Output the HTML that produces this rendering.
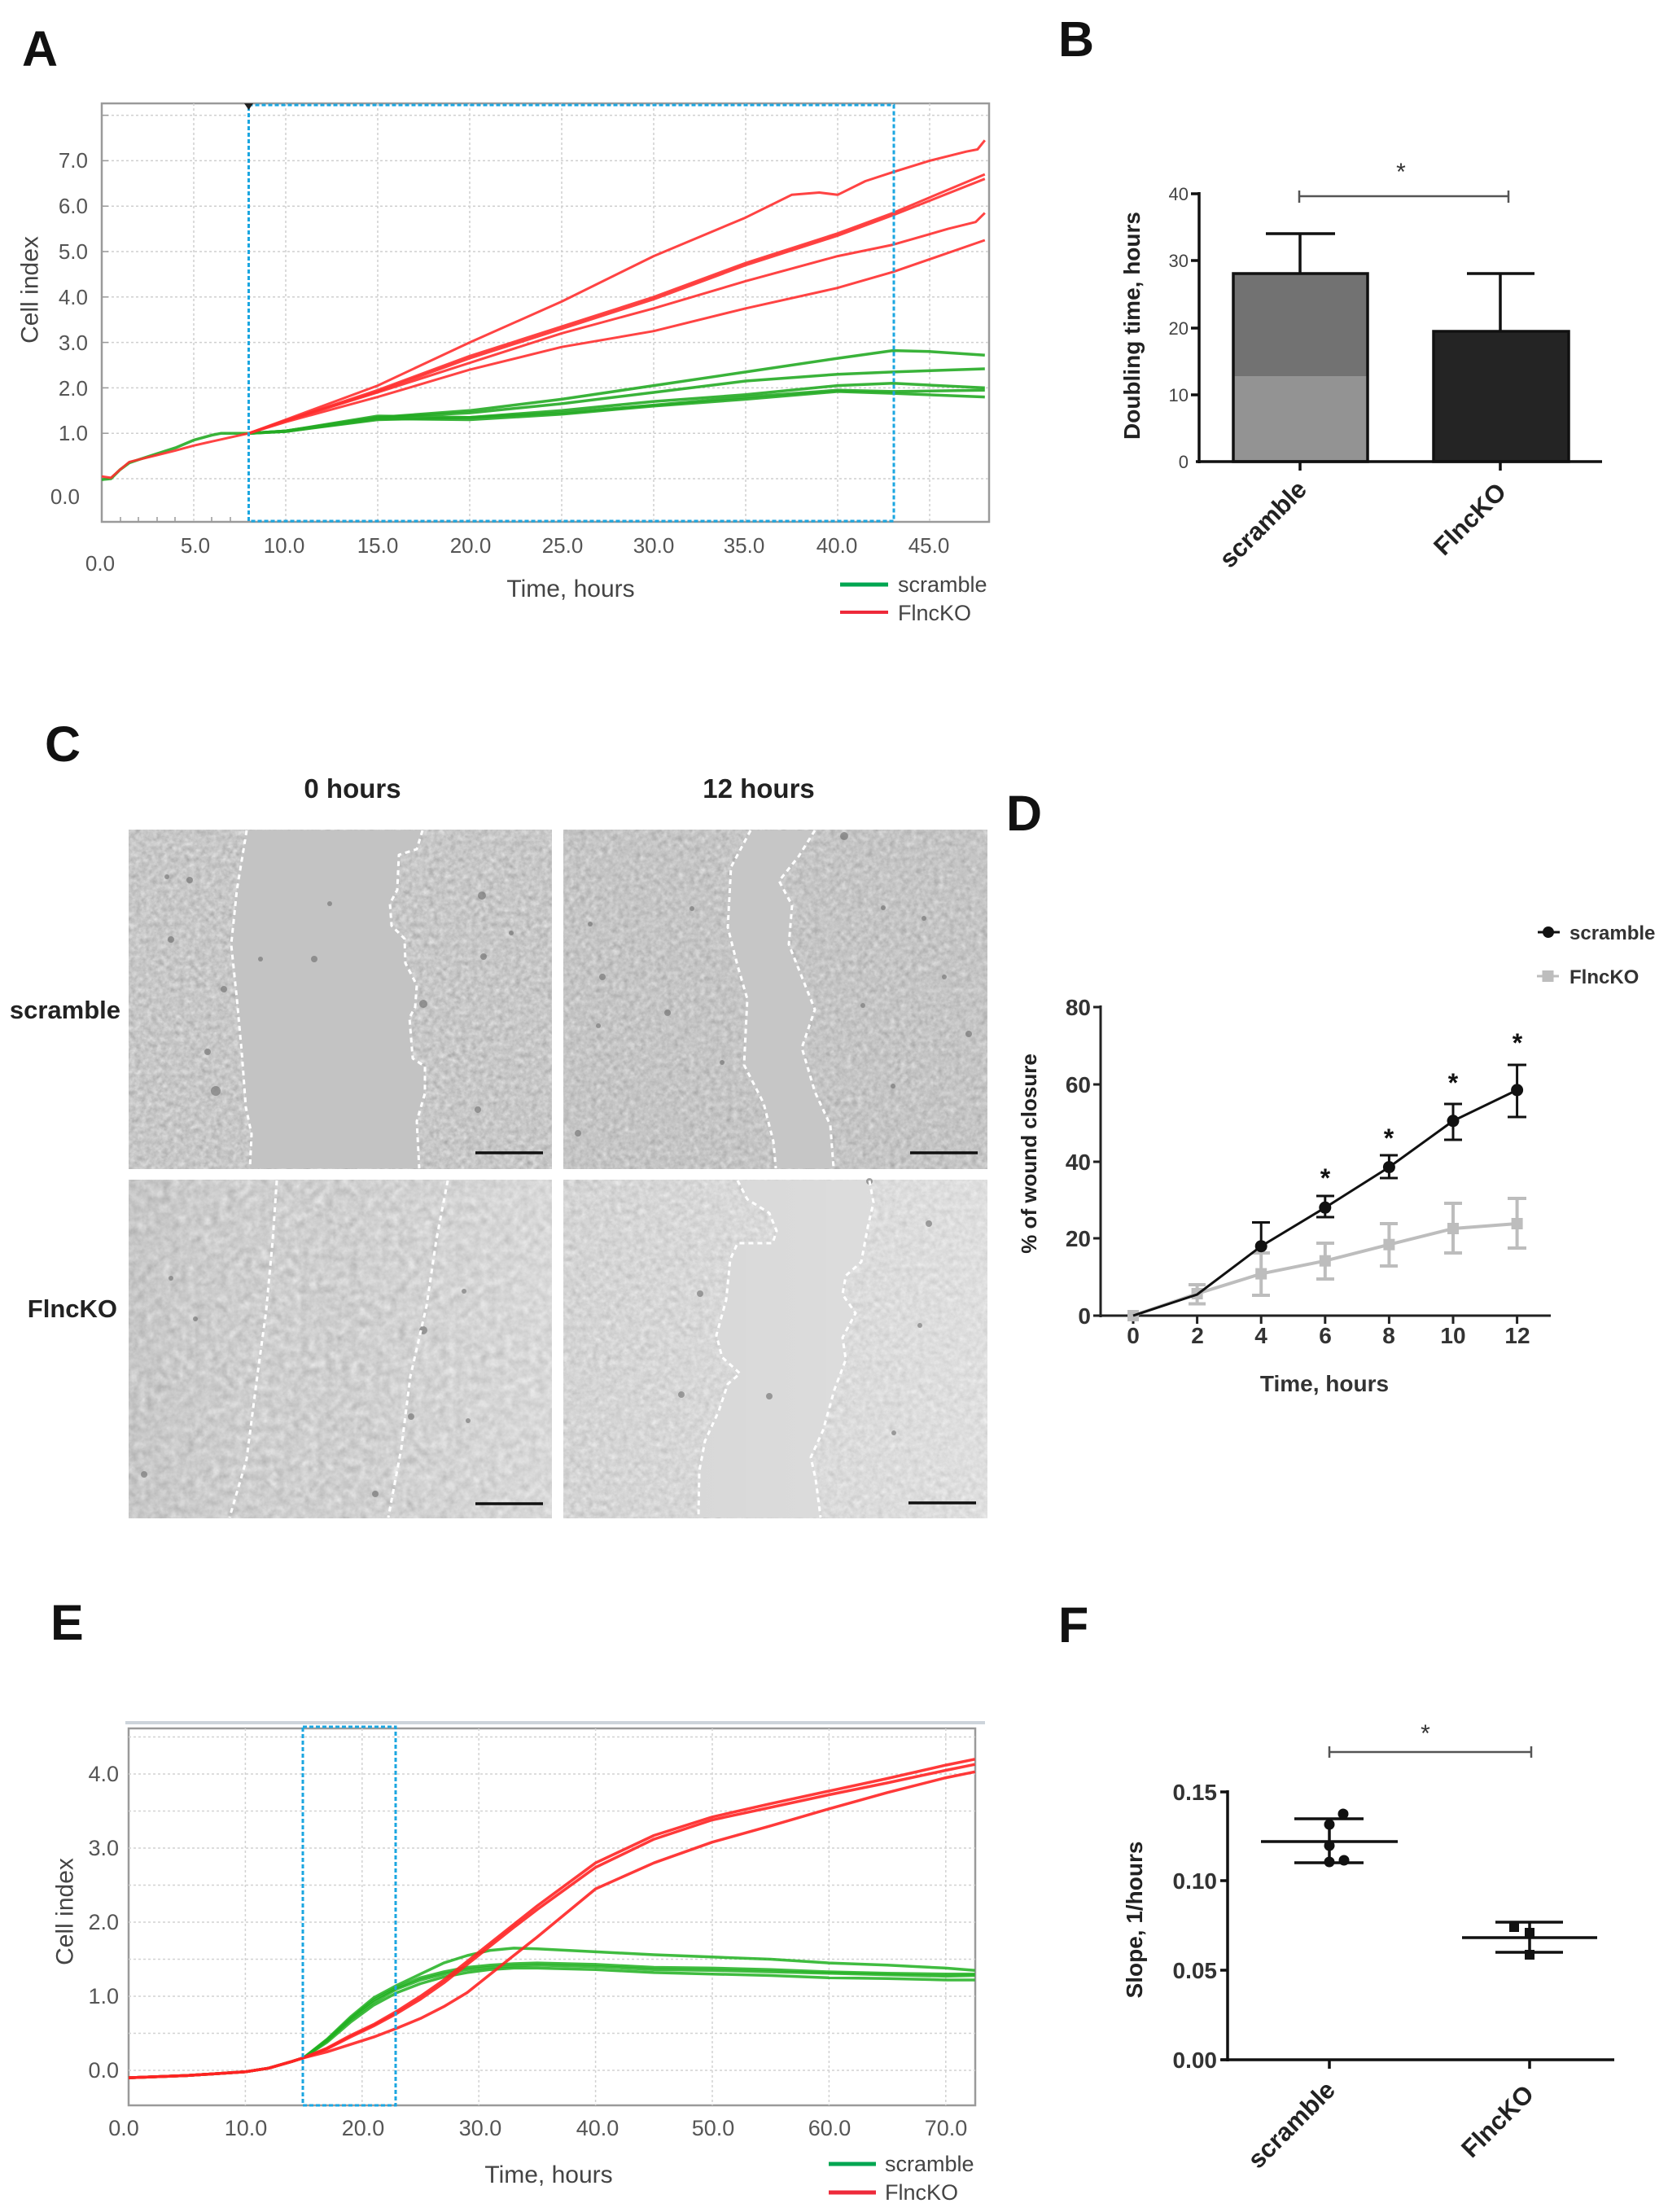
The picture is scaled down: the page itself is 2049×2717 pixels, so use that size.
<!DOCTYPE html>
<html><head><meta charset="utf-8"><style>
html,body{margin:0;padding:0;background:#fff}
svg{display:block}
text{font-family:"Liberation Sans",Arial,sans-serif}
</style></head><body>
<svg width="2049" height="2717" viewBox="0 0 2049 2717" xmlns="http://www.w3.org/2000/svg">
<defs>
<filter id="n1" x="0" y="0" width="1" height="1" color-interpolation-filters="sRGB">
<feTurbulence type="fractalNoise" baseFrequency="0.15" numOctaves="3" seed="2"/>
<feColorMatrix type="matrix" values="0.13 0.13 0.13 0 0.585 0.13 0.13 0.13 0 0.585 0.13 0.13 0.13 0 0.585 0 0 0 0 1"/>
</filter>
<filter id="n2" x="0" y="0" width="1" height="1" color-interpolation-filters="sRGB">
<feTurbulence type="fractalNoise" baseFrequency="0.15" numOctaves="3" seed="7"/>
<feColorMatrix type="matrix" values="0.13 0.13 0.13 0 0.575 0.13 0.13 0.13 0 0.575 0.13 0.13 0.13 0 0.575 0 0 0 0 1"/>
</filter>
<filter id="n3" x="0" y="0" width="1" height="1" color-interpolation-filters="sRGB">
<feTurbulence type="fractalNoise" baseFrequency="0.1" numOctaves="3" seed="11"/>
<feColorMatrix type="matrix" values="0.12 0.12 0.12 0 0.63 0.12 0.12 0.12 0 0.63 0.12 0.12 0.12 0 0.63 0 0 0 0 1"/>
</filter>
<filter id="n4" x="0" y="0" width="1" height="1" color-interpolation-filters="sRGB">
<feTurbulence type="fractalNoise" baseFrequency="0.14" numOctaves="3" seed="4"/>
<feColorMatrix type="matrix" values="0.1 0.1 0.1 0 0.68 0.1 0.1 0.1 0 0.68 0.1 0.1 0.1 0 0.68 0 0 0 0 1"/>
</filter>
<linearGradient id="g3" x1="0" y1="0" x2="1" y2="0">
<stop offset="0" stop-color="#000" stop-opacity="0.04"/>
<stop offset="0.5" stop-color="#fff" stop-opacity="0"/>
<stop offset="1" stop-color="#fff" stop-opacity="0.2"/>
</linearGradient>
<linearGradient id="g4" x1="0" y1="0" x2="1" y2="0">
<stop offset="0" stop-color="#fff" stop-opacity="0"/>
<stop offset="1" stop-color="#fff" stop-opacity="0.25"/>
</linearGradient>
</defs>

<!-- Panel letters -->
<g font-weight="bold" font-size="61" fill="#111">
<text x="27" y="81">A</text>
<text x="1300" y="69">B</text>
<text x="55" y="935">C</text>
<text x="1236" y="1020">D</text>
<text x="62" y="2014">E</text>
<text x="1300" y="2017">F</text>
</g>

<!-- ================= PANEL A ================= -->
<g>
<rect x="125" y="127" width="1090" height="514" fill="#fff" stroke="#9a9a9a" stroke-width="2.5"/>
<g stroke="#cfcfcf" stroke-width="1.5" stroke-dasharray="3 3">
<line x1="125" y1="588" x2="1215" y2="588"/>
<line x1="125" y1="532.2" x2="1215" y2="532.2"/>
<line x1="125" y1="476.4" x2="1215" y2="476.4"/>
<line x1="125" y1="420.6" x2="1215" y2="420.6"/>
<line x1="125" y1="364.8" x2="1215" y2="364.8"/>
<line x1="125" y1="309" x2="1215" y2="309"/>
<line x1="125" y1="253.2" x2="1215" y2="253.2"/>
<line x1="125" y1="197.4" x2="1215" y2="197.4"/>
<line x1="125" y1="141.6" x2="1215" y2="141.6"/>
<line x1="238" y1="127" x2="238" y2="641"/>
<line x1="351" y1="127" x2="351" y2="641"/>
<line x1="464" y1="127" x2="464" y2="641"/>
<line x1="577" y1="127" x2="577" y2="641"/>
<line x1="690" y1="127" x2="690" y2="641"/>
<line x1="803" y1="127" x2="803" y2="641"/>
<line x1="916" y1="127" x2="916" y2="641"/>
<line x1="1029" y1="127" x2="1029" y2="641"/>
<line x1="1142" y1="127" x2="1142" y2="641"/>
</g>
<g stroke="#999" stroke-width="1.5">
<line x1="125" y1="588" x2="133" y2="588"/><line x1="125" y1="532.2" x2="133" y2="532.2"/><line x1="125" y1="476.4" x2="133" y2="476.4"/><line x1="125" y1="420.6" x2="133" y2="420.6"/><line x1="125" y1="364.8" x2="133" y2="364.8"/><line x1="125" y1="309" x2="133" y2="309"/><line x1="125" y1="253.2" x2="133" y2="253.2"/><line x1="125" y1="197.4" x2="133" y2="197.4"/><line x1="125" y1="141.6" x2="133" y2="141.6"/>
<line x1="148" y1="641" x2="148" y2="635"/><line x1="170" y1="641" x2="170" y2="635"/><line x1="193" y1="641" x2="193" y2="635"/><line x1="215" y1="641" x2="215" y2="635"/><line x1="260" y1="641" x2="260" y2="635"/><line x1="283" y1="641" x2="283" y2="635"/>
</g>
<!-- green curves -->
<g fill="none" stroke="#25ab25" stroke-width="3.5" stroke-linejoin="round" stroke-opacity="0.9">
<path d="M125,589.1 L136.3,588 L147.6,576.8 L158.9,568.5 L170.2,564.6 L192.8,557.3 L215.4,550.1 L238,540.6 L260.6,534.4 L271.9,532.2 L283.2,532.2 L305.8,532.2"/>
<path d="M305.8,532.2 L351,529.4 L464,512.7 L577,504.3 L690,490.4 L803,473.6 L916,456.9 L1029,440.1 L1096.8,430.6 L1142,431.8 L1209.8,436.2"/>
<path d="M305.8,532.2 L351,529.4 L464,512.7 L577,507.1 L690,495.9 L803,482 L916,468 L1029,459.7 L1096.8,456.9 L1209.8,453"/>
<path d="M305.8,532.2 L351,529.4 L464,511 L577,512.7 L690,504.3 L803,493.1 L916,484.8 L1029,473.6 L1096.8,470.8 L1209.8,476.4"/>
<path d="M305.8,532.2 L351,530 L464,515.5 L577,512.7 L690,507.1 L803,497.6 L916,487.6 L1029,479.2 L1096.8,480.9 L1209.8,479.2"/>
<path d="M305.8,532.2 L351,530 L464,514.3 L577,515.5 L690,508.8 L803,498.7 L916,490.4 L1029,480.9 L1096.8,483.1 L1209.8,487.6"/>
</g>
<!-- red curves -->
<g fill="none" stroke="#ff2f2f" stroke-width="3" stroke-linejoin="round" stroke-opacity="0.9">
<path d="M125,585.2 L136.3,586.9 L147.6,576.8 L158.9,567.4 L170.2,564.6 L192.8,559 L215.4,553.4 L238,547.3 L260.6,542.2 L283.2,537.2 L305.8,532.2"/>
<path d="M305.8,532.2 L351,515.5 L464,473.6 L577,420.6 L690,370.4 L803,314.6 L916,267.2 L972.5,239.3 L1006.4,236.5 L1029,239.3 L1063,222.5 L1096.8,211.4 L1142,197.4 L1187,186.2 L1200.8,183.5 L1209.8,172.3"/>
<path d="M305.8,532.2 L351,516.6 L464,479.2 L577,437.3 L690,401.1 L803,364.8 L916,323 L1029,286.7 L1096.8,261.6 L1209.8,214.1"/>
<path d="M305.8,532.2 L351,516.6 L464,480.9 L577,440.1 L690,403.9 L803,367.6 L916,325.7 L1029,289.5 L1096.8,264.4 L1209.8,219.7"/>
<path d="M305.8,532.2 L351,517.1 L464,482 L577,445.7 L690,409.4 L803,378.8 L916,345.3 L1029,314.6 L1096.8,300.6 L1164.6,281.1 L1198.5,272.7 L1209.8,261.6"/>
<path d="M305.8,532.2 L351,518.3 L464,487.6 L577,454.1 L690,426.2 L803,406.7 L916,378.8 L1029,353.6 L1096.8,334.1 L1209.8,295"/>
</g>
<!-- blue selection -->
<rect x="305.5" y="129" width="792.5" height="511" fill="none" stroke="#1ba6e0" stroke-width="3" stroke-dasharray="5 3"/>
<path d="M300,127 L311,127 L305.5,135 Z" fill="#222"/>
<g font-size="26" fill="#555" text-anchor="end">
<text x="108" y="206">7.0</text>
<text x="108" y="262">6.0</text>
<text x="108" y="318">5.0</text>
<text x="108" y="374">4.0</text>
<text x="108" y="430">3.0</text>
<text x="108" y="486">2.0</text>
<text x="108" y="541">1.0</text>
<text x="98" y="619">0.0</text>
</g>
<g font-size="26" fill="#555" text-anchor="middle">
<text x="123" y="701">0.0</text>
<text x="240" y="679">5.0</text>
<text x="349" y="679">10.0</text>
<text x="464" y="679">15.0</text>
<text x="578" y="679">20.0</text>
<text x="691" y="679">25.0</text>
<text x="803" y="679">30.0</text>
<text x="914" y="679">35.0</text>
<text x="1028" y="679">40.0</text>
<text x="1141" y="679">45.0</text>
</g>
<text transform="translate(36,356) rotate(-90)" text-anchor="middle" dy="0.35em" font-size="30" fill="#444">Cell index</text>
<text x="701" y="733" text-anchor="middle" font-size="30" fill="#444">Time, hours</text>
<line x1="1032" y1="718" x2="1091" y2="718" stroke="#00a651" stroke-width="5"/>
<text x="1103" y="727" font-size="27" fill="#444">scramble</text>
<line x1="1032" y1="752" x2="1091" y2="752" stroke="#ee2a3a" stroke-width="4"/>
<text x="1103" y="762" font-size="27" fill="#444">FlncKO</text>
</g>

<!-- ================= PANEL B ================= -->
<g>
<rect x="1515" y="336" width="165" height="126" fill="#727272"/>
<rect x="1515" y="462" width="165" height="105" fill="#939393"/>
<rect x="1515" y="336" width="165" height="231" fill="none" stroke="#111" stroke-width="3.5"/>
<rect x="1761" y="407" width="166" height="160" fill="#242424" stroke="#111" stroke-width="3.5"/>
<g stroke="#111" stroke-width="3.5" fill="none">
<line x1="1597" y1="336" x2="1597" y2="287"/><line x1="1555" y1="287" x2="1640" y2="287"/>
<line x1="1843" y1="407" x2="1843" y2="336"/><line x1="1802" y1="336" x2="1885" y2="336"/>
<line x1="1473" y1="236" x2="1473" y2="569"/>
<line x1="1469" y1="567" x2="1968" y2="567"/>
<line x1="1463" y1="238" x2="1473" y2="238"/><line x1="1463" y1="320" x2="1473" y2="320"/><line x1="1463" y1="403" x2="1473" y2="403"/><line x1="1463" y1="485" x2="1473" y2="485"/>
<line x1="1597" y1="567" x2="1597" y2="578"/><line x1="1843" y1="567" x2="1843" y2="578"/>
</g>
<g stroke="#555" stroke-width="2.5">
<line x1="1596" y1="241" x2="1853" y2="241"/><line x1="1596" y1="234" x2="1596" y2="249"/><line x1="1853" y1="234" x2="1853" y2="249"/>
</g>
<text x="1721" y="221" text-anchor="middle" font-size="30" fill="#333">*</text>
<g font-size="22" fill="#444" text-anchor="end">
<text x="1460" y="246">40</text><text x="1460" y="328">30</text><text x="1460" y="411">20</text><text x="1460" y="493">10</text><text x="1460" y="575">0</text>
</g>
<text transform="translate(1390,400) rotate(-90)" text-anchor="middle" dy="0.35em" font-size="28" font-weight="bold" fill="#222">Doubling time, hours</text>
<text transform="translate(1607,603) rotate(-45)" text-anchor="end" font-size="31" font-weight="bold" fill="#222">scramble</text>
<text transform="translate(1852,606) rotate(-45)" text-anchor="end" font-size="31" font-weight="bold" fill="#222">FlncKO</text>
</g>

<!-- ================= PANEL C ================= -->
<g>
<g font-size="33" font-weight="bold" fill="#222" text-anchor="middle">
<text x="433" y="980">0 hours</text>
<text x="932" y="980">12 hours</text>
</g>
<g font-size="31" font-weight="bold" fill="#222" text-anchor="end">
<text x="148" y="1251">scramble</text>
<text x="144" y="1618">FlncKO</text>
</g>
<!-- image 1 -->
<rect x="158" y="1019" width="520" height="417" filter="url(#n1)"/>
<polygon points="303,1020 291,1093 284,1160 291,1227 297,1293 302,1360 309,1393 307,1435 515,1435 512,1377 522,1343 522,1310 507,1300 503,1250 510,1237 512,1210 498,1183 497,1153 481,1137 479,1110 488,1093 490,1050 512,1043 519,1020" fill="#c3c3c3"/>
<!-- image 2 -->
<rect x="692" y="1019" width="521" height="417" filter="url(#n2)"/>
<polygon points="922,1020 898,1065 894,1139 906,1186 918,1227 914,1308 938,1355 950,1402 953,1435 1024,1435 1020,1382 1001,1341 985,1287 1001,1240 985,1200 969,1160 973,1112 957,1082 981,1052 1001,1020" fill="#c6c6c6"/>
<!-- image 3 -->
<rect x="158" y="1449" width="520" height="416" filter="url(#n3)"/>
<rect x="158" y="1449" width="520" height="416" fill="url(#g3)"/>
<!-- image 4 -->
<rect x="692" y="1449" width="521" height="416" filter="url(#n4)"/>
<polygon points="906,1450 918,1473 945,1490 954,1512 949,1527 906,1527 897,1547 892,1597 880,1640 887,1667 909,1687 894,1700 883,1733 866,1770 859,1807 858,1864 1008,1864 1002,1817 996,1790 1011,1757 1025,1707 1039,1670 1035,1643 1051,1613 1035,1590 1039,1567 1058,1550 1066,1507 1073,1477 1068,1450" fill="#d5d5d5"/>
<rect x="692" y="1449" width="521" height="416" fill="url(#g4)"/>
<!-- debris dots -->
<g fill="#6a6a6a" fill-opacity="0.6">
<circle cx="233" cy="1081" r="4"/><circle cx="205" cy="1077" r="3"/><circle cx="265" cy="1340" r="6"/><circle cx="255" cy="1292" r="4"/><circle cx="210" cy="1154" r="4"/><circle cx="275" cy="1215" r="4"/><circle cx="320" cy="1178" r="3"/><circle cx="386" cy="1178" r="4"/><circle cx="405" cy="1110" r="3"/>
<circle cx="592" cy="1100" r="5"/><circle cx="594" cy="1175" r="4"/><circle cx="520" cy="1233" r="5"/><circle cx="587" cy="1363" r="4"/><circle cx="628" cy="1146" r="3"/>
<circle cx="725" cy="1135" r="3"/><circle cx="740" cy="1200" r="4"/><circle cx="735" cy="1260" r="3"/><circle cx="710" cy="1392" r="4"/><circle cx="820" cy="1244" r="4"/><circle cx="850" cy="1116" r="3"/><circle cx="887" cy="1305" r="3"/>
<circle cx="1037" cy="1027" r="5"/><circle cx="1060" cy="1235" r="3"/><circle cx="1085" cy="1115" r="3"/><circle cx="1135" cy="1128" r="3"/><circle cx="1190" cy="1270" r="4"/><circle cx="1160" cy="1200" r="3"/><circle cx="1097" cy="1334" r="3"/>
<circle cx="210" cy="1570" r="3"/><circle cx="240" cy="1620" r="3"/><circle cx="520" cy="1634" r="5"/><circle cx="505" cy="1740" r="4"/><circle cx="570" cy="1586" r="3"/><circle cx="575" cy="1745" r="3"/><circle cx="177" cy="1811" r="4"/><circle cx="461" cy="1835" r="4"/>
<circle cx="860" cy="1589" r="4"/><circle cx="837" cy="1713" r="4"/><circle cx="945" cy="1715" r="4"/><circle cx="1141" cy="1503" r="4"/><circle cx="1130" cy="1628" r="3"/><circle cx="1098" cy="1760" r="3"/><circle cx="1068" cy="1451" r="4"/>
</g>
<!-- wound lines -->
<g fill="none" stroke="#fff" stroke-width="3" stroke-dasharray="6 5" stroke-linejoin="round">
<polyline points="303,1020 291,1093 284,1160 291,1227 297,1293 302,1360 309,1393 307,1435"/>
<polyline points="519,1020 512,1043 490,1050 488,1093 479,1110 481,1137 497,1153 498,1183 512,1210 510,1237 503,1250 507,1300 522,1310 522,1343 512,1377 515,1435"/>
<polyline points="922,1020 898,1065 894,1139 906,1186 918,1227 914,1308 938,1355 950,1402 953,1435"/>
<polyline points="1001,1020 981,1052 957,1082 973,1112 969,1160 985,1200 1001,1240 985,1287 1001,1341 1020,1382 1024,1435"/>
<polyline points="340,1450 335,1523 327,1610 315,1698 303,1792 282,1864"/>
<polyline points="550,1450 536,1523 524,1604 504,1691 493,1779 477,1864"/>
<polyline points="906,1450 918,1473 945,1490 954,1512 949,1527 906,1527 897,1547 892,1597 880,1640 887,1667 909,1687 894,1700 883,1733 866,1770 859,1807 858,1864"/>
<polyline points="1068,1450 1073,1477 1066,1507 1058,1550 1039,1567 1035,1590 1051,1613 1035,1643 1039,1670 1025,1707 1011,1757 996,1790 1002,1817 1008,1864"/>
</g>
<g stroke="#111" stroke-width="3.5">
<line x1="584" y1="1416" x2="667" y2="1416"/>
<line x1="1118" y1="1416" x2="1201" y2="1416"/>
<line x1="584" y1="1847" x2="667" y2="1847"/>
<line x1="1116" y1="1846" x2="1199" y2="1846"/>
</g>
</g>

<!-- ================= PANEL D ================= -->
<g>
<g stroke="#222" stroke-width="3" fill="none">
<line x1="1352" y1="1235" x2="1352" y2="1618"/>
<line x1="1345" y1="1616" x2="1905" y2="1616"/>
<line x1="1343" y1="1237" x2="1352" y2="1237"/><line x1="1343" y1="1332" x2="1352" y2="1332"/><line x1="1343" y1="1427" x2="1352" y2="1427"/><line x1="1343" y1="1521" x2="1352" y2="1521"/><line x1="1343" y1="1616" x2="1352" y2="1616"/>
<line x1="1392" y1="1616" x2="1392" y2="1626"/><line x1="1470.6" y1="1616" x2="1470.6" y2="1626"/><line x1="1549.2" y1="1616" x2="1549.2" y2="1626"/><line x1="1627.8" y1="1616" x2="1627.8" y2="1626"/><line x1="1706.4" y1="1616" x2="1706.4" y2="1626"/><line x1="1785" y1="1616" x2="1785" y2="1626"/><line x1="1863.6" y1="1616" x2="1863.6" y2="1626"/>
</g>
<!-- FlncKO gray -->
<g stroke="#bdbdbd" stroke-width="4" fill="none">
<polyline points="1392,1616 1470.6,1589 1549.2,1564.6 1627.8,1548.7 1706.4,1528.7 1785,1509 1863.6,1503"/>
<line x1="1470.6" y1="1578" x2="1470.6" y2="1601.5"/><line x1="1460" y1="1578" x2="1481" y2="1578"/><line x1="1460" y1="1601.5" x2="1481" y2="1601.5"/>
<line x1="1549.2" y1="1539" x2="1549.2" y2="1591"/><line x1="1538" y1="1539" x2="1560" y2="1539"/><line x1="1538" y1="1591" x2="1560" y2="1591"/>
<line x1="1627.8" y1="1527" x2="1627.8" y2="1571"/><line x1="1617" y1="1527" x2="1639" y2="1527"/><line x1="1617" y1="1571" x2="1639" y2="1571"/>
<line x1="1706.4" y1="1503" x2="1706.4" y2="1555"/><line x1="1695" y1="1503" x2="1717" y2="1503"/><line x1="1695" y1="1555" x2="1717" y2="1555"/>
<line x1="1785" y1="1478" x2="1785" y2="1539"/><line x1="1774" y1="1478" x2="1796" y2="1478"/><line x1="1774" y1="1539" x2="1796" y2="1539"/>
<line x1="1863.6" y1="1472" x2="1863.6" y2="1533"/><line x1="1852" y1="1472" x2="1875" y2="1472"/><line x1="1852" y1="1533" x2="1875" y2="1533"/>
</g>
<g fill="#bdbdbd">
<rect x="1385" y="1609" width="14" height="14"/><rect x="1463.6" y="1582" width="14" height="14"/><rect x="1542.2" y="1557.6" width="14" height="14"/><rect x="1620.8" y="1541.7" width="14" height="14"/><rect x="1699.4" y="1521.7" width="14" height="14"/><rect x="1778" y="1502" width="14" height="14"/><rect x="1856.6" y="1496" width="14" height="14"/>
</g>
<!-- scramble black -->
<g stroke="#111" stroke-width="3" fill="none">
<polyline points="1392,1616 1470.6,1590 1549.2,1530.7 1627.8,1483.3 1706.4,1433.6 1785,1376.8 1863.6,1338.9"/>
<line x1="1549.2" y1="1501.5" x2="1549.2" y2="1530"/><line x1="1538" y1="1501.5" x2="1560" y2="1501.5"/>
<line x1="1627.8" y1="1469" x2="1627.8" y2="1495"/><line x1="1617" y1="1469" x2="1639" y2="1469"/><line x1="1617" y1="1495" x2="1639" y2="1495"/>
<line x1="1706.4" y1="1419" x2="1706.4" y2="1447"/><line x1="1695" y1="1419" x2="1717" y2="1419"/><line x1="1695" y1="1447" x2="1717" y2="1447"/>
<line x1="1785" y1="1356" x2="1785" y2="1400"/><line x1="1774" y1="1356" x2="1796" y2="1356"/><line x1="1774" y1="1400" x2="1796" y2="1400"/>
<line x1="1863.6" y1="1308" x2="1863.6" y2="1372"/><line x1="1852" y1="1308" x2="1875" y2="1308"/><line x1="1852" y1="1372" x2="1875" y2="1372"/>
</g>
<g fill="#111">
<circle cx="1549.2" cy="1530.7" r="7.5"/><circle cx="1627.8" cy="1483.3" r="7.5"/><circle cx="1706.4" cy="1433.6" r="7.5"/><circle cx="1785" cy="1376.8" r="7.5"/><circle cx="1863.6" cy="1338.9" r="7.5"/>
</g>
<g font-size="32" font-weight="bold" fill="#111" text-anchor="middle">
<text x="1628" y="1458">*</text><text x="1706" y="1409">*</text><text x="1785" y="1341">*</text><text x="1864" y="1292">*</text>
</g>
<g font-size="28" font-weight="bold" fill="#333" text-anchor="end">
<text x="1340" y="1247">80</text><text x="1340" y="1342">60</text><text x="1340" y="1437">40</text><text x="1340" y="1531">20</text><text x="1340" y="1626">0</text>
</g>
<g font-size="28" font-weight="bold" fill="#333" text-anchor="middle">
<text x="1392" y="1650">0</text><text x="1471" y="1650">2</text><text x="1549" y="1650">4</text><text x="1628" y="1650">6</text><text x="1706" y="1650">8</text><text x="1785" y="1650">10</text><text x="1864" y="1650">12</text>
</g>
<text x="1627" y="1709" text-anchor="middle" font-size="28" font-weight="bold" fill="#333">Time, hours</text>
<text transform="translate(1264,1417) rotate(-90)" text-anchor="middle" dy="0.35em" font-size="26" font-weight="bold" fill="#222">% of wound closure</text>
<line x1="1889" y1="1145" x2="1916" y2="1145" stroke="#111" stroke-width="3"/>
<circle cx="1902" cy="1145" r="7" fill="#111"/>
<text x="1928" y="1154" font-size="24" font-weight="bold" fill="#333">scramble</text>
<line x1="1888" y1="1199" x2="1915" y2="1199" stroke="#bdbdbd" stroke-width="3"/>
<rect x="1894.5" y="1192" width="14" height="14" fill="#bdbdbd"/>
<text x="1928" y="1208" font-size="24" font-weight="bold" fill="#333">FlncKO</text>
</g>

<!-- ================= PANEL E ================= -->
<g>
<line x1="154" y1="2116" x2="1210" y2="2116" stroke="#cdd4db" stroke-width="4"/>
<rect x="158" y="2123" width="1040" height="463" fill="#fff" stroke="#9a9a9a" stroke-width="2.5"/>
<g stroke="#d2d2d2" stroke-width="1.5" stroke-dasharray="3 3">
<line x1="158" y1="2543" x2="1198" y2="2543"/><line x1="158" y1="2497.5" x2="1198" y2="2497.5"/><line x1="158" y1="2452" x2="1198" y2="2452"/><line x1="158" y1="2406.5" x2="1198" y2="2406.5"/><line x1="158" y1="2361" x2="1198" y2="2361"/><line x1="158" y1="2315.5" x2="1198" y2="2315.5"/><line x1="158" y1="2270" x2="1198" y2="2270"/><line x1="158" y1="2224.5" x2="1198" y2="2224.5"/><line x1="158" y1="2179" x2="1198" y2="2179"/><line x1="158" y1="2133.5" x2="1198" y2="2133.5"/>
<line x1="301.4" y1="2123" x2="301.4" y2="2586"/><line x1="444.8" y1="2123" x2="444.8" y2="2586"/><line x1="588.2" y1="2123" x2="588.2" y2="2586"/><line x1="731.6" y1="2123" x2="731.6" y2="2586"/><line x1="875" y1="2123" x2="875" y2="2586"/><line x1="1018.4" y1="2123" x2="1018.4" y2="2586"/><line x1="1161.8" y1="2123" x2="1161.8" y2="2586"/>
</g>
<g fill="none" stroke="#1eb01e" stroke-width="3.5" stroke-linejoin="round" stroke-opacity="0.85">
<path d="M158,2552.1 L229.7,2549.4 L301.4,2544.8 L330.1,2540.3 L358.8,2532.1 L373.1,2527.5 L401.8,2504.8 L430.5,2477.5 L459.1,2453.8 L487.8,2438.4 L516.5,2424.7 L545.2,2411.1 L573.9,2402 L602.5,2395.6 L631.2,2392.9 L659.9,2393.8 L731.6,2397.4 L803.3,2401 L875,2403.8 L946.7,2406.5 L1018.4,2411.1 L1090.1,2413.8 L1161.8,2417.4 L1197.7,2420.2"/>
<path d="M158,2552.1 L229.7,2549.4 L301.4,2544.8 L330.1,2540.3 L358.8,2532.1 L373.1,2527.5 L401.8,2506.6 L430.5,2481.1 L459.1,2459.3 L487.8,2442.9 L516.5,2432 L545.2,2424.7 L573.9,2419.2 L602.5,2416.5 L631.2,2414.7 L659.9,2413.8 L731.6,2415.6 L803.3,2419.2 L875,2420.2 L946.7,2422 L1018.4,2423.8 L1090.1,2425.6 L1161.8,2427.4 L1197.7,2426.5"/>
<path d="M158,2552.1 L229.7,2549.4 L301.4,2544.8 L330.1,2540.3 L358.8,2532.1 L373.1,2527.5 L401.8,2508.4 L430.5,2483.9 L459.1,2462.9 L487.8,2447.5 L516.5,2436.5 L545.2,2428.3 L573.9,2422.9 L602.5,2419.2 L631.2,2417.4 L659.9,2417.4 L731.6,2419.2 L803.3,2422.9 L875,2424.7 L946.7,2426.5 L1018.4,2429.3 L1090.1,2430.2 L1161.8,2432 L1197.7,2432"/>
<path d="M158,2552.1 L229.7,2549.4 L301.4,2544.8 L330.1,2540.3 L358.8,2532.1 L373.1,2527.5 L401.8,2505.7 L430.5,2479.3 L459.1,2456.6 L487.8,2441.1 L516.5,2429.3 L545.2,2422 L573.9,2416.5 L602.5,2413.8 L631.2,2412 L659.9,2411.1 L731.6,2412.9 L803.3,2416.5 L875,2417.4 L946.7,2419.2 L1018.4,2422 L1090.1,2423.8 L1161.8,2424.7 L1197.7,2424.7"/>
</g>
<g fill="none" stroke="#ff2424" stroke-width="3.5" stroke-linejoin="round" stroke-opacity="0.9">
<path d="M158,2552.1 L229.7,2549.4 L301.4,2544.8 L330.1,2540.3 L358.8,2532.1 L373.1,2527.5 L401.8,2515.7 L430.5,2500.2 L459.1,2486.6 L487.8,2470.2 L516.5,2452 L545.2,2432 L573.9,2409.2 L602.5,2386.5 L631.2,2363.7 L659.9,2341 L731.6,2288.2 L803.3,2254.5 L875,2231.8 L946.7,2215.4 L1018.4,2199.9 L1090.1,2184.5 L1161.8,2168.1 L1197.7,2160.8"/>
<path d="M158,2552.1 L229.7,2549.4 L301.4,2544.8 L330.1,2540.3 L358.8,2532.1 L373.1,2527.5 L401.8,2516.6 L430.5,2502.1 L459.1,2488.4 L487.8,2472.9 L516.5,2455.6 L545.2,2435.6 L573.9,2412.9 L602.5,2390.1 L631.2,2367.4 L659.9,2345.5 L731.6,2293.7 L803.3,2259.1 L875,2235.4 L946.7,2220 L1018.4,2204.5 L1090.1,2189.9 L1161.8,2174.5 L1197.7,2167.2"/>
<path d="M158,2552.1 L229.7,2549.4 L301.4,2544.8 L330.1,2540.3 L358.8,2532.1 L373.1,2527.5 L401.8,2520.3 L430.5,2511.2 L459.1,2502.1 L487.8,2491.1 L516.5,2479.3 L545.2,2464.7 L573.9,2447.5 L602.5,2424.7 L631.2,2401.9 L659.9,2379.2 L731.6,2320.1 L803.3,2288.2 L875,2262.7 L946.7,2242.7 L1018.4,2221.8 L1090.1,2201.8 L1161.8,2183.6 L1197.7,2176.3"/>
</g>
<rect x="372" y="2121" width="114" height="465" fill="none" stroke="#1ba6e0" stroke-width="3" stroke-dasharray="5 3"/>
<g font-size="27" fill="#555" text-anchor="end">
<text x="146" y="2188">4.0</text><text x="146" y="2279">3.0</text><text x="146" y="2370">2.0</text><text x="146" y="2461">1.0</text><text x="146" y="2552">0.0</text>
</g>
<g font-size="27" fill="#555" text-anchor="middle">
<text x="152" y="2623">0.0</text><text x="302" y="2623">10.0</text><text x="446" y="2623">20.0</text><text x="590" y="2623">30.0</text><text x="734" y="2623">40.0</text><text x="876" y="2623">50.0</text><text x="1019" y="2623">60.0</text><text x="1162" y="2623">70.0</text>
</g>
<text transform="translate(79,2348) rotate(-90)" text-anchor="middle" dy="0.35em" font-size="30" fill="#444">Cell index</text>
<text x="674" y="2681" text-anchor="middle" font-size="30" fill="#444">Time, hours</text>
<line x1="1018" y1="2658" x2="1076" y2="2658" stroke="#00a651" stroke-width="5"/>
<text x="1087" y="2667" font-size="27" fill="#444">scramble</text>
<line x1="1018" y1="2693" x2="1076" y2="2693" stroke="#ee2a3a" stroke-width="5"/>
<text x="1087" y="2702" font-size="27" fill="#444">FlncKO</text>
</g>

<!-- ================= PANEL F ================= -->
<g>
<g stroke="#111" stroke-width="3.5" fill="none">
<line x1="1508" y1="2199" x2="1508" y2="2532"/>
<line x1="1500" y1="2530" x2="1983" y2="2530"/>
<line x1="1499" y1="2201" x2="1508" y2="2201"/><line x1="1499" y1="2310" x2="1508" y2="2310"/><line x1="1499" y1="2420" x2="1508" y2="2420"/><line x1="1499" y1="2530" x2="1508" y2="2530"/>
<line x1="1633" y1="2530" x2="1633" y2="2541"/><line x1="1879" y1="2530" x2="1879" y2="2541"/>
<line x1="1549" y1="2262" x2="1717" y2="2262"/>
<line x1="1590" y1="2234" x2="1675" y2="2234"/><line x1="1590" y1="2288" x2="1675" y2="2288"/>
<line x1="1633" y1="2234" x2="1633" y2="2288"/>
<line x1="1796" y1="2380" x2="1962" y2="2380"/>
<line x1="1837" y1="2361" x2="1920" y2="2361"/><line x1="1837" y1="2398" x2="1920" y2="2398"/>
<line x1="1879" y1="2361" x2="1879" y2="2398"/>
</g>
<g fill="#111">
<circle cx="1650" cy="2228" r="6.5"/><circle cx="1633" cy="2241" r="6.5"/><circle cx="1633" cy="2267" r="6.5"/><circle cx="1633" cy="2287" r="6.5"/><circle cx="1651" cy="2285" r="6.5"/>
<rect x="1854" y="2361" width="12" height="12"/><rect x="1873" y="2368" width="12" height="12"/><rect x="1873" y="2395" width="12" height="12"/>
</g>
<g stroke="#555" stroke-width="2.5">
<line x1="1633" y1="2152" x2="1881" y2="2152"/><line x1="1633" y1="2145" x2="1633" y2="2159"/><line x1="1881" y1="2145" x2="1881" y2="2159"/>
</g>
<text x="1751" y="2139" text-anchor="middle" font-size="30" fill="#333">*</text>
<g font-size="28" font-weight="bold" fill="#333" text-anchor="end">
<text x="1495" y="2211">0.15</text><text x="1495" y="2320">0.10</text><text x="1495" y="2430">0.05</text><text x="1495" y="2540">0.00</text>
</g>
<text transform="translate(1393,2358) rotate(-90)" text-anchor="middle" dy="0.35em" font-size="28" font-weight="bold" fill="#222">Slope, 1/hours</text>
<text transform="translate(1642,2569) rotate(-45)" text-anchor="end" font-size="31" font-weight="bold" fill="#222">scramble</text>
<text transform="translate(1886,2574) rotate(-45)" text-anchor="end" font-size="31" font-weight="bold" fill="#222">FlncKO</text>
</g>
</svg>
</body></html>
